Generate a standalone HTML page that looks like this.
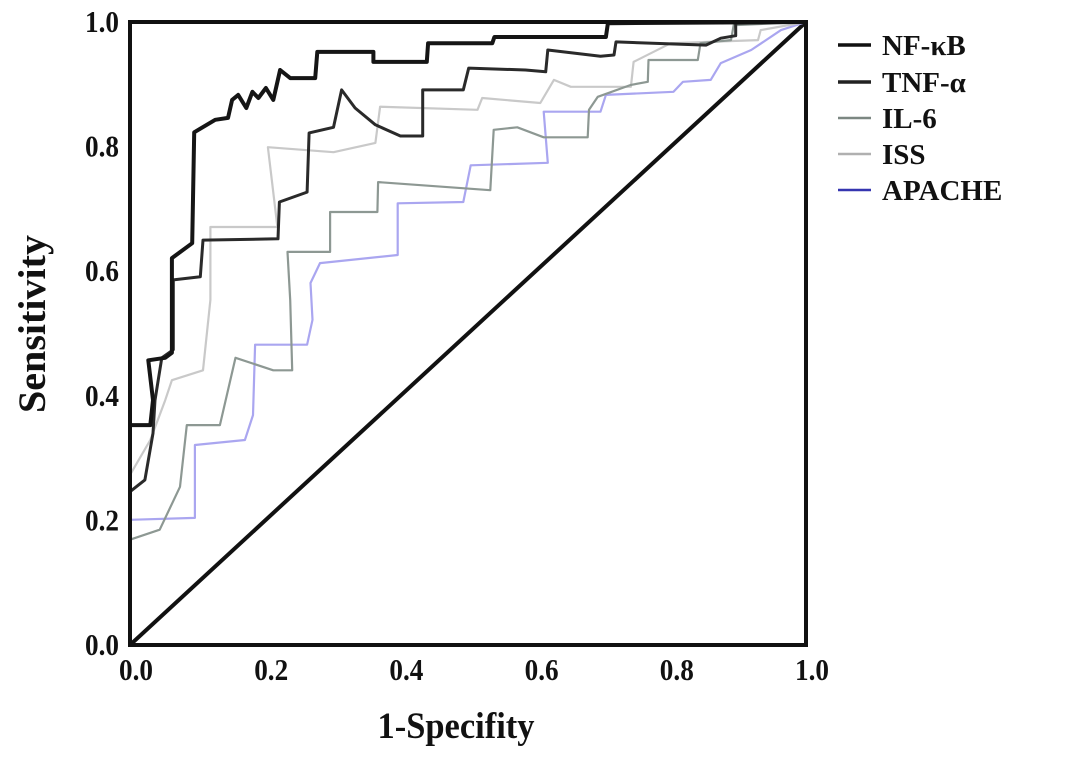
<!DOCTYPE html>
<html><head><meta charset="utf-8"><style>
html,body{margin:0;padding:0;background:#fff;}
svg{display:block;}
text{font-family:"Liberation Serif",serif;font-weight:bold;fill:#111;}
</style></head><body>
<svg id="chart" width="1087" height="761" viewBox="0 0 1087 761" xmlns="http://www.w3.org/2000/svg">
<g id="plot"></g>
<g id="axes"></g>
<g id="legend"></g>
</svg>
<script>
const xTicks = [0.0, 0.2, 0.4, 0.6, 0.8, 1.0];
const yTicks = [0.0, 0.2, 0.4, 0.6, 0.8, 1.0];
const seriesNames = ["NF-κB", "TNF-α", "IL-6", "ISS", "APACHE"];
const nfkbFpr = [0,.030,.034,.027,.052,.062,.062,.092,.095,.126,.145,.151,.160,.172,.181,.190,.201,.212,.222,.237,.274,.277,.360,.360,.439,.441,.536,.539,.704,.707,1];
const nfkbTpr = [.353,.353,.393,.457,.461,.469,.621,.645,.823,.843,.846,.875,.883,.862,.888,.878,.894,.875,.923,.910,.910,.952,.952,.936,.936,.966,.966,.976,.976,.998,1];
const tnfFpr = [0,.022,.034,.037,.047,.064,.064,.104,.108,.219,.221,.262,.265,.301,.313,.333,.363,.400,.433,.433,.493,.501,.585,.615,.618,.696,.716,.719,.852,.874,.896,.896,1];
const tnfTpr = [.246,.265,.340,.393,.461,.474,.586,.591,.650,.652,.711,.727,.822,.831,.891,.862,.835,.817,.817,.891,.891,.926,.923,.920,.955,.945,.947,.968,.963,.974,.978,.998,1];
const il6Fpr = [0,.044,.074,.084,.133,.156,.212,.240,.237,.233,.296,.296,.366,.367,.533,.538,.573,.612,.677,.679,.692,.741,.766,.767,.840,.844,.889,.893,1];
const il6Tpr = [.169,.185,.254,.353,.353,.461,.441,.441,.554,.631,.631,.695,.695,.743,.730,.827,.831,.815,.815,.859,.880,.899,.904,.939,.939,.966,.971,.995,1];
const issFpr = [0,.030,.052,.062,.108,.119,.119,.218,.204,.301,.363,.370,.514,.521,.607,.627,.652,.741,.745,.800,.929,.933,1];
const issTpr = [.273,.329,.393,.425,.441,.554,.671,.671,.799,.791,.806,.864,.859,.878,.870,.907,.896,.896,.936,.966,.971,.987,1];
const apacheFpr = [0,.096,.096,.170,.182,.185,.262,.270,.267,.281,.396,.396,.493,.504,.618,.612,.696,.704,.804,.818,.859,.874,.919,.963,1];
const apacheTpr = [.201,.204,.321,.329,.369,.482,.482,.522,.581,.613,.626,.709,.711,.770,.774,.856,.856,.883,.888,.904,.907,.934,.955,.987,1];

const X0=130, X1=806, Y0=645, Y1=22;
function xs(v){return X0+(X1-X0)*v;}
function ys(v){return Y0-(Y0-Y1)*v;}
const NS="http://www.w3.org/2000/svg";
function mk(tag, attrs, parent){const e=document.createElementNS(NS,tag);for(const k in attrs)e.setAttribute(k,attrs[k]);parent.appendChild(e);return e;}
const plot=document.getElementById('plot'), axes=document.getElementById('axes'), legend=document.getElementById('legend');

const diag=mk('line',{x1:xs(0),y1:ys(0),x2:xs(1),y2:ys(1),stroke:'#111','stroke-width':4},plot);



const series=[
 {f:apacheFpr,t:apacheTpr,c:'#aaa6f0',w:2.2,name:'apache-curve'},
 {f:issFpr,t:issTpr,c:'#c9c9c9',w:2.2,name:'iss-curve'},
 {f:il6Fpr,t:il6Tpr,c:'#8d9893',w:2.2,name:'il6-curve'},
 {f:tnfFpr,t:tnfTpr,c:'#2a2a2a',w:3,name:'tnf-alpha-curve'},
 {f:nfkbFpr,t:nfkbTpr,c:'#151515',w:4,name:'nfkb-curve'}
];
series.forEach(s=>{
  const d=s.f.map((v,i)=>(i?'L':'M')+xs(v).toFixed(1)+' '+ys(s.t[i]).toFixed(1)).join(' ');
  const p=mk('path',{d:d,fill:'none',stroke:s.c,'stroke-width':s.w,'stroke-linejoin':'round'},plot);
  
  
});

const fr=mk('rect',{x:X0,y:Y1,width:X1-X0,height:Y0-Y1,fill:'none',stroke:'#111','stroke-width':4},axes);



yTicks.forEach(v=>{
  const t=mk('text',{x:119,y:ys(v)+10,'text-anchor':'end','font-size':31,textLength:34,lengthAdjust:'spacingAndGlyphs'},axes);
  t.textContent=v.toFixed(1);
  
  
});
xTicks.forEach(v=>{
  const t=mk('text',{x:xs(v)+6,y:680,'text-anchor':'middle','font-size':31,textLength:34,lengthAdjust:'spacingAndGlyphs'},axes);
  t.textContent=v.toFixed(1);
  
  
});
const xt=mk('text',{x:456,y:738,'text-anchor':'middle','font-size':37,textLength:157,lengthAdjust:'spacingAndGlyphs'},axes);
xt.textContent='1-Specifity';


const yt=mk('text',{x:0,y:0,'text-anchor':'middle','font-size':39,textLength:178,lengthAdjust:'spacingAndGlyphs',transform:'translate(45,324) rotate(-90)'},axes);
yt.textContent='Sensitivity';



const legY=[45,82,118,154,190];
const legCols=['#111','#222','#7c8782','#b0b0b0','#3535b0'];
seriesNames.forEach((n,i)=>{
  const g=mk('g',{},legend);
  
  
  mk('line',{x1:838,y1:legY[i],x2:871,y2:legY[i],stroke:legCols[i],'stroke-width':i<2?3.5:2.5},g);
  const t=mk('text',{x:882,y:legY[i]+10,'font-size':29},g);
  t.textContent=n;
});
</script>
</body></html>
